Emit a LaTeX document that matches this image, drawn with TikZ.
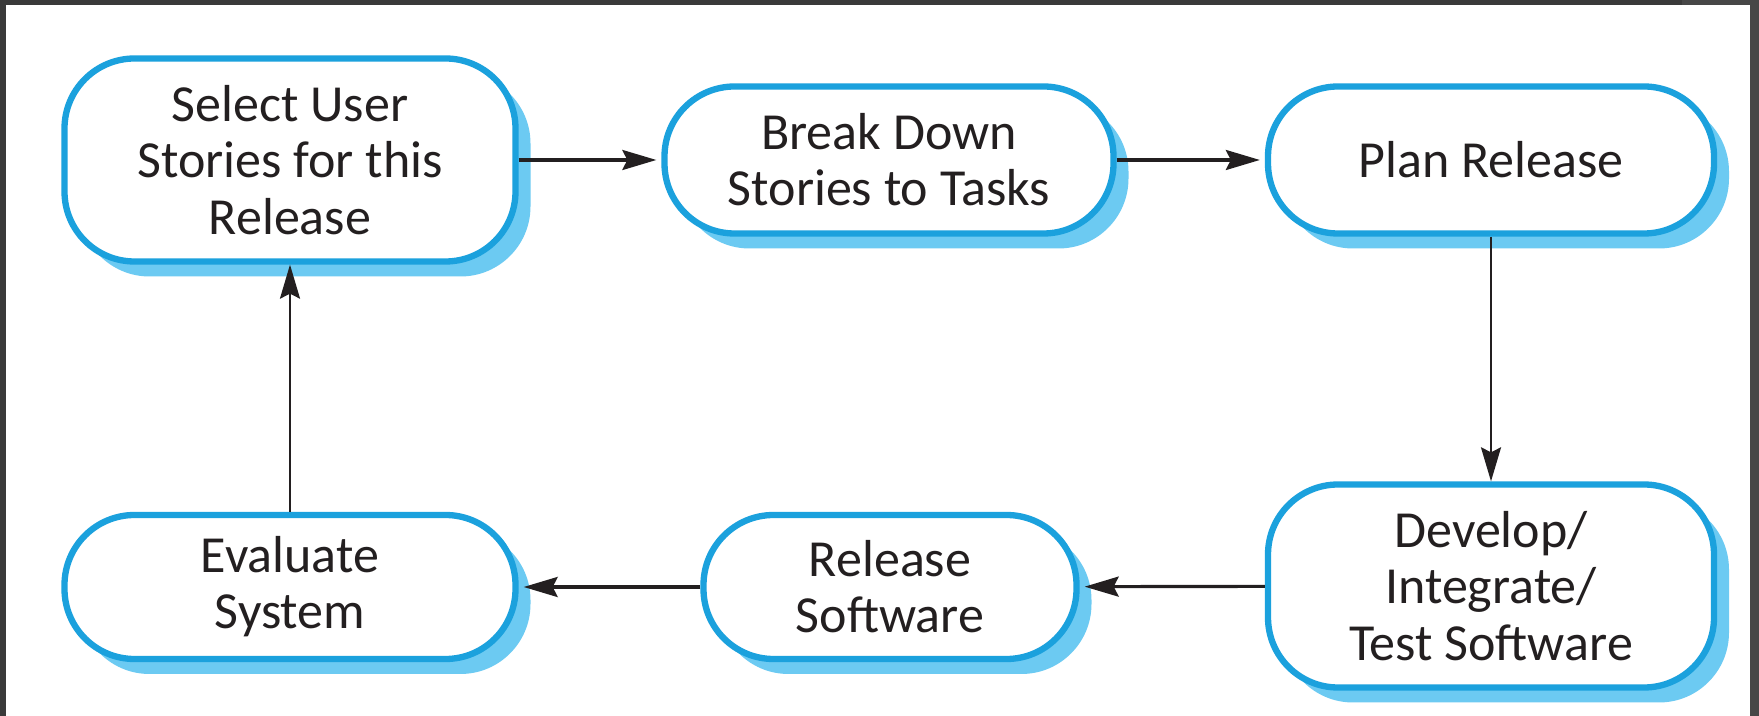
\documentclass[tikz,border=0pt]{standalone}
\usepackage{fontspec}
\setmainfont{Carlito}
\usetikzlibrary{arrows.meta,shadows}
\definecolor{framegray}{HTML}{3A3A3A}
\definecolor{framegrayR}{HTML}{474747}
\definecolor{stageblue}{HTML}{1BA1DD}
\definecolor{shadowblue}{HTML}{6CCAF2}
\definecolor{inkdark}{HTML}{231F20}
\tikzset{
  stage/.style={
    draw=stageblue, line width=1.8pt, fill=white,
    rounded corners=7mm, inner sep=0pt, align=center,
    text=inkdark, font=\fontsize{14.8pt}{16pt}\selectfont,
    drop shadow={shadow xshift=1.5mm, shadow yshift=-1.5mm,
                 fill=shadowblue, opacity=1}
  },
  flow/.style={draw=inkdark, line width=0.9pt,
    -{Stealth[length=3.4mm, width=2mm, inset=0.5mm]}},
  vflow/.style={flow, line width=0.65pt}
}
\begin{document}
\begin{tikzpicture}[x=0.1mm, y=-0.1mm]
  % dark outer frame and white sheet
  \fill[framegray] (0,0) rectangle (1759,716);
  \fill[framegrayR] (1682,0) rectangle (1759,716);
  \fill[white] (6,5) rectangle (1750,716);
  \useasboundingbox (0,0) rectangle (1759,716);

  % process stages
  \node[stage, minimum width=45.1mm, minimum height=20.3mm] (sel) at (290,160)
    {Select User\\Stories for this\\Release};
  \node[stage, minimum width=44.9mm, minimum height=14.7mm] (brk) at (889,160)
    {Break Down\\Stories to Tasks};
  \node[stage, minimum width=44.6mm, minimum height=14.7mm] (pln) at (1491,160)
    {Plan Release};
  \node[stage, minimum width=44.6mm, minimum height=20.3mm] (dev) at (1491,586)
    {Develop/\\Integrate/\\Test Software};
  \node[stage, minimum width=37.3mm, minimum height=14.4mm] (rel) at (890,587)
    {Release\\Software};
  \node[stage, minimum width=45.1mm, minimum height=14.4mm] (evl) at (290,587)
    {Evaluate\\System};

  % connectors
  \draw[flow, shorten >=0.5mm] (sel) -- (brk);
  \draw[flow, shorten >=0.5mm] (brk) -- (pln);
  \draw[vflow] (pln) -- (dev);
  \draw[flow, shorten >=0.5mm] (dev) -- (rel);
  \draw[flow, shorten >=0.5mm] (rel) -- (evl);
  \draw[vflow] (evl) -- (sel);
\end{tikzpicture}
\end{document}
